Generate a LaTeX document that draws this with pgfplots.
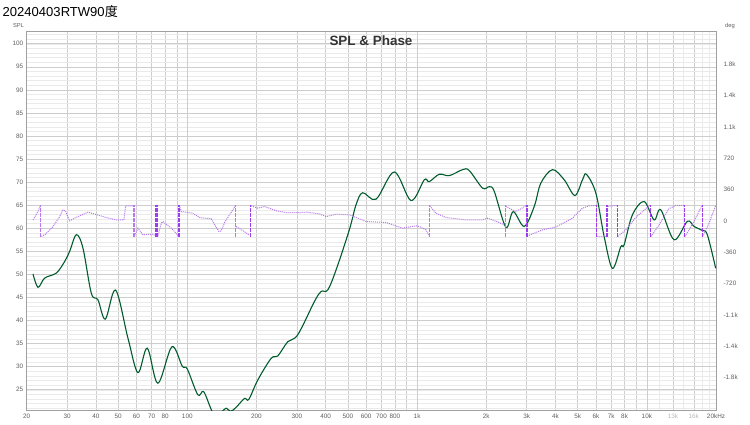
\documentclass[border=0pt]{standalone}
\usepackage{pgfplots}
\pgfplotsset{compat=1.18}
\usepackage{pgfplotstable}
\usepackage{fontspec}
\setmainfont{Liberation Sans}
\newfontfamily\cjk{Noto Sans CJK SC}

\definecolor{spl}{RGB}{0,92,45}
\definecolor{phdot}{RGB}{180,120,235}
\definecolor{phwrap}{RGB}{160,60,240}
\definecolor{phwrapl}{RGB}{185,120,240}
\definecolor{gmaj}{RGB}{205,205,205}
\definecolor{gmin}{RGB}{234,234,234}
\definecolor{gdec}{RGB}{160,160,160}
\definecolor{lbl}{RGB}{95,95,95}

\pgfplotstableread{
f spl
21.30 50.1
22.40 47.2
23.95 49.2
26.93 50.3
29.26 52.8
30.76 55.0
32.90 58.6
35.14 55.7
38.22 45.9
40.83 44.5
43.98 40.3
48.75 46.6
55.15 36.2
60.96 28.7
66.96 34.0
74.45 26.4
85.67 34.3
95.07 30.1
99.95 29.5
111.1 23.9
117.7 24.6
127.1 20.7
132.7 19.3
140.0 20.0
147.7 21.0
154.2 20.3
163.2 21.2
177.4 23.1
185.2 22.9
202.6 27.1
231.7 31.8
247.5 32.3
273.6 35.4
302.4 36.9
357.4 44.1
382.3 46.3
408.3 46.6
444.3 51.0
507.4 59.7
542.6 65.1
579.7 67.7
663.1 66.3
796.2 72.2
941.2 66.0
1075 70.5
1130 70.1
1249 71.7
1381 71.4
1578 72.7
1687 72.5
1927 68.7
2061 69.0
2167 68.0
2436 60.2
2621 63.6
2926 60.4
3234 64.7
3458 69.8
3885 72.7
4368 70.5
4861 67.1
5247 70.5
5458 71.7
6000 67.6
6518 58.2
7082 51.3
7702 56.0
7962 56.4
8654 62.9
9730 65.8
10754 61.8
11496 64.0
13134 57.5
15010 61.5
16048 60.4
17440 59.5
18332 58.6
19940 51.3
}\spltable

\pgfplotstableread{
f deg
21.30 11
22.40 107
22.94 178
nan nan
23.17 -178
23.95 -161
26.03 -66
27.83 49
28.76 126
29.46 115
30.76 0
32.34 31
36.95 100
41.54 61
44.43 38
49.09 11
52.98 11
53.89 172
58.56 172
nan nan
58.86 -175
60.96 -84
64.08 -161
70.82 -153
72.98 -175
nan nan
73.27 178
74.23 178
nan nan
74.45 -178
77.03 -27
78.28 -8
85.15 -84
91.88 -175
nan nan
92.25 178
94.12 107
105.7 88
113.0 38
127.1 23
130.0 -20
137.1 -123
140.5 -115
145.2 -20
152.6 69
157.8 126
162.1 178
nan nan
163.2 -66
173.9 -110
186.5 -165
nan nan
189.7 172
202.6 146
216.7 165
227.8 146
243.6 115
269.3 95
307.6 95
329.0 100
375.8 80
401.9 49
444.3 77
507.4 69
599.9 -8
732.7 -19
865.3 -84
989.5 -57
1022.8 -66
1093.8 -103
1130.2 -172
nan nan
1136 172
1208.6 88
1336 38
1632 11
1927 11
2026 31
2278 -19
2394 -46
nan nan
2431 165
2693 107
2986 175
nan nan
3016 -178
3077 -165
3514 -103
4022 -70
4746 31
5247 146
5609 172
6000 178
nan nan
6048 -178
6697 -178
nan nan
6750 165
7422 180
nan nan
7497 -178
8098 -103
8954 40
9898 140
10333 178
nan nan
10436 -178
11301 -46
12494 140
13360 178
14518 178
nan nan
14665 -178
15777 -40
17389 175
nan nan
17510 -178
18648 -27
19940 178
}\phasetable

\begin{document}
\begin{tikzpicture}[x=1bp,y=1bp]
\path[use as bounding box] (0,0) rectangle (750,424);
\node[anchor=base west, inner sep=0pt, font=\fontsize{13.1}{14}\selectfont] at (2.5,407) {20240403RTW90{\cjk 度}};
\node[anchor=base, inner sep=0pt, text=lbl, font=\fontsize{5.8}{6}\selectfont] at (18.5,396) {SPL};
\node[anchor=base, inner sep=0pt, text=lbl, font=\fontsize{5.8}{6}\selectfont] at (730,396) {deg};

\begin{axis}[
  at={(26.7bp,14bp)}, anchor=south west,
  scale only axis, width=689.3bp, height=378.3bp,
  xmode=log, xmin=20, xmax=20000,
  ymin=20.6, ymax=102.6,
  axis line style={draw=gdec, line width=0.5bp},
  xtick={20,30,40,50,60,70,80,90,100,200,300,400,500,600,700,800,900,1000,2000,3000,4000,5000,6000,7000,8000,9000,10000,13000,16000,20000},
  xticklabels={20,30,40,50,60,70,80,,100,200,300,400,500,600,700,800,,1k,2k,3k,4k,5k,6k,7k,8k,,10k,\textcolor{gray!55}{13k},\textcolor{gray!55}{16k},20kHz},
  minor xtick={11300,14400,17400,18700},
  ytick={25,30,...,100},
  minor ytick={21,22,...,102},
  grid=both,
  major grid style={draw=gmaj, line width=0.5bp},
  minor grid style={draw=gmin, line width=0.4bp},
  major tick length=0pt, minor tick length=0pt,
  ticklabel style={font=\fontsize{6.4}{7}\selectfont, text=lbl},
  xticklabel shift=0.5bp,
  extra x ticks={100,1000,10000}, extra x tick labels={},
  extra x tick style={grid style={draw=gdec, line width=0.6bp}},
  /pgf/number format/assume math mode=true,
]
\addplot[spl, line width=1.1bp, smooth, tension=0.55] table[x=f, y=spl] {\spltable};
\end{axis}

\begin{axis}[
  at={(26.7bp,14bp)}, anchor=south west,
  scale only axis, width=689.3bp, height=378.3bp,
  xmode=log, xmin=20, xmax=20000,
  ymin=-2175, ymax=2175,
  axis y line*=right, hide x axis,
  y axis line style={draw=none},
  ytick={-1800,-1440,-1080,-720,-360,0,360,720,1080,1440,1800},
  yticklabels={-1.8k,-1.4k,-1.1k,-720,-360,0,360,720,1.1k,1.4k,1.8k},
  major tick length=0pt,
  yticklabel style={font=\fontsize{6.4}{7}\selectfont, text=lbl},
  yticklabel shift=4bp,
  unbounded coords=jump,
  /pgf/number format/assume math mode=true,
  wrapl/.style={draw=phwrapl, line width=1.3bp, dash pattern=on 3.5bp off 1.5bp, forget plot},
  wrapd/.style={draw=phwrap, line width=1.3bp, dash pattern=on 3.5bp off 1.5bp, forget plot},
]
\addplot[draw=phdot, line width=1bp, densely dotted] table[x=f, y=deg] {\phasetable};
\addplot[wrapl] coordinates {(22.94,-180) (22.94,180)};
\addplot[wrapl] coordinates {(58.56,-180) (58.56,180)};
\addplot[wrapd] coordinates {(73.1,-180) (73.1,180)};
\addplot[wrapd] coordinates {(74.3,-180) (74.3,180)};
\addplot[wrapd] coordinates {(91.9,-180) (91.9,180)};
\addplot[wrapl] coordinates {(162.1,-180) (162.1,180)};
\addplot[wrapd] coordinates {(188.4,-180) (188.4,180)};
\addplot[wrapl] coordinates {(1130,-180) (1130,180)};
\addplot[wrapl] coordinates {(2418,-180) (2418,180)};
\addplot[wrapd] coordinates {(3007,-180) (3007,180)};
\addplot[wrapd] coordinates {(6018,-180) (6018,180)};
\addplot[wrapd] coordinates {(6717,-180) (6717,180)};
\addplot[wrapd] coordinates {(7460,-180) (7460,180)};
\addplot[wrapd] coordinates {(10384,-180) (10384,180)};
\addplot[wrapd] coordinates {(14592,-180) (14592,180)};
\addplot[wrapd] coordinates {(17440,-180) (17440,180)};
\end{axis}

\node[anchor=center, inner sep=0pt, font=\bfseries\fontsize{13.5}{15}\selectfont, text=black!80] at (371,383) {SPL \& Phase};
\end{tikzpicture}
\end{document}
